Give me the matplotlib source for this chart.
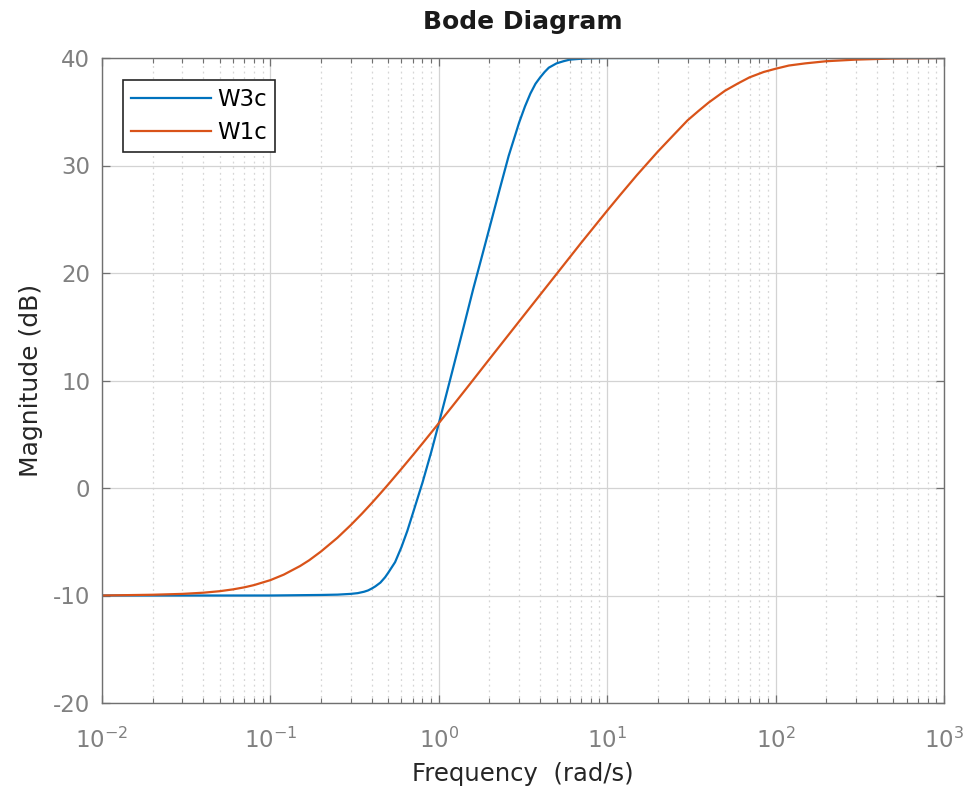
#Bode Diagram - 幅值曲线 W3c 与 W1c
import numpy as np
import matplotlib
matplotlib.use("Agg")
import matplotlib.pyplot as plt
from matplotlib.ticker import LogLocator, NullFormatter

#（1）从图上读出的数据点（频率 rad/s，幅值 dB）
w3c_freq = [0.01, 0.05, 0.1, 0.2, 0.25, 0.3, 0.33, 0.36, 0.38, 0.4, 0.42, 0.45, 0.48, 0.5,
            0.55, 0.6, 0.65, 0.7, 0.75, 0.8, 0.9, 1.0, 1.1, 1.2, 1.4, 1.6, 1.8, 2.0, 2.3,
            2.6, 3.0, 3.25, 3.5, 3.75, 4.0, 4.25, 4.5, 5.0, 5.5, 6.0, 7.0, 8.0, 10, 100, 1000]
w3c_mag = [-10.0, -10.0, -10.0, -9.95, -9.92, -9.85, -9.78, -9.65, -9.53, -9.35, -9.15, -8.8, -8.3, -7.9,
           -6.9, -5.5, -4.0, -2.4, -0.9, 0.5, 3.3, 6.0, 8.5, 10.8, 14.9, 18.5, 21.5, 24.2, 27.8,
           30.9, 34.0, 35.5, 36.7, 37.6, 38.2, 38.7, 39.1, 39.5, 39.7, 39.85, 39.93, 39.97, 40.0, 40.0, 40.0]

w1c_freq = [0.01, 0.02, 0.03, 0.04, 0.05, 0.06, 0.07, 0.08, 0.1, 0.12, 0.15, 0.17, 0.2, 0.25,
            0.3, 0.35, 0.4, 0.45, 0.5, 0.6, 0.7, 0.8, 1.0, 1.2, 1.5, 2.0, 3.0, 5.0, 7.0,
            10, 12, 15, 20, 25, 30, 35, 40, 50, 60, 70, 85, 100, 120, 150, 200, 300, 500, 1000]
w1c_mag = [-10.0, -9.93, -9.85, -9.74, -9.6, -9.43, -9.24, -9.03, -8.57, -8.06, -7.26, -6.72, -5.9, -4.63,
           -3.45, -2.38, -1.4, -0.5, 0.32, 1.78, 3.04, 4.15, 6.03, 7.58, 9.5, 12.0, 15.5, 19.9, 22.8,
           25.8, 27.3, 29.1, 31.3, 32.9, 34.2, 35.1, 35.85, 36.95, 37.65, 38.2, 38.7, 39.0, 39.3, 39.5, 39.7,
           39.85, 39.95, 40.0]

series_names = ["W3c", "W1c"]
series_colors = ["#0072BD", "#D95319"]

#（2）全局样式
plt.rcParams["font.family"] = ["DejaVu Sans"]
plt.rcParams["axes.unicode_minus"] = False
plt.rcParams["mathtext.fontset"] = "dejavusans"

axis_gray = "#707070"
label_gray = "#808080"

fig = plt.figure(figsize=(9.69, 7.89), dpi=100)
ax = fig.add_axes([102 / 969, (789 - 703) / 789, 842 / 969, 645 / 789])

#（3）绘制曲线
ax.semilogx(w3c_freq, w3c_mag, color=series_colors[0], lw=1.6, label=series_names[0])
ax.semilogx(w1c_freq, w1c_mag, color=series_colors[1], lw=1.6, label=series_names[1])

#（4）坐标轴范围与刻度
ax.set_xlim(1e-2, 1e3)
ax.set_ylim(-20, 40)
ax.set_yticks(np.arange(-20, 41, 10))
ax.xaxis.set_major_locator(LogLocator(base=10, numticks=10))
ax.xaxis.set_minor_locator(LogLocator(base=10, subs=np.arange(2, 10), numticks=100))
ax.xaxis.set_minor_formatter(NullFormatter())

ax.tick_params(which="both", direction="in", top=True, right=True, color=axis_gray,
               labelcolor=label_gray, labelsize=16.5)
ax.tick_params(which="major", length=6, width=0.9)
ax.tick_params(which="minor", length=3.5, width=0.8)
ax.tick_params(axis="y", pad=8.5)
ax.tick_params(axis="x", pad=18)

for sp in ax.spines.values():
    sp.set_color(axis_gray)
    sp.set_linewidth(1.0)

#（5）网格：主网格实线，次网格点线
ax.grid(which="major", color="#d3d3d3", lw=0.9, ls="-")
ax.grid(which="minor", axis="x", color="#d6d6d6", lw=0.9, ls=(0, (1.5, 3)))
ax.set_axisbelow(True)

#（6）标题、坐标轴标签、图例
ax.set_title("Bode Diagram", fontsize=18, fontweight="bold", color="#1a1a1a", pad=21)
ax.set_xlabel("Frequency  (rad/s)", fontsize=17.5, color="#262626", labelpad=6)
ax.set_ylabel("Magnitude (dB)", fontsize=18, color="#262626", labelpad=7)

leg = ax.legend(loc="upper left", bbox_to_anchor=(21 / 842, 1 - 22 / 645), borderaxespad=0,
                fontsize=16.5, handlelength=3.5, handletextpad=0.26, labelspacing=0.42,
                borderpad=0.35, fancybox=False, framealpha=1)
leg.get_frame().set_edgecolor("#262626")
leg.get_frame().set_linewidth(1.2)

fig.savefig("out.png", dpi=100)
